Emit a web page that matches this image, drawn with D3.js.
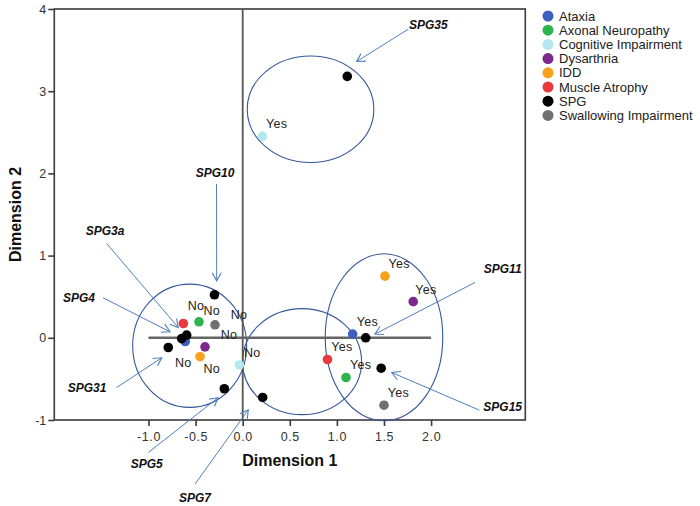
<!DOCTYPE html>
<html><head><meta charset="utf-8">
<script src="https://cdn.jsdelivr.net/npm/d3@7"></script>
<style>body{margin:0;background:#fff}svg{display:block}text{font-family:Arial,"Liberation Sans",sans-serif}</style>
</head><body>
<svg id="c" width="700" height="506"></svg>
<script>
// ---- data ----
const categories = ["Ataxia","Axonal Neuropathy","Cognitive Impairment","Dysarthria","IDD","Muscle Atrophy","SPG","Swallowing Impairment"];
const categoryColors = ["#3d5fbf","#2fb34c","#b3e9ee","#7b2a8b","#f7a11c","#e8393e","#000000","#707070"];
// points: [category index, dim1, dim2]
const pointCat = [0,0, 1,1, 2,2, 3,3, 4,4, 5,5, 7,7, 6,6,6,6,6,6,6,6,6];
const pointX   = [-0.61,1.167, -0.464,1.097, -0.036,0.21, -0.40,1.81, -0.453,1.51, -0.63,0.90, -0.294,1.50, 1.11,-0.30,-0.595,-0.648,-0.79,-0.195,0.212,1.306,1.47];
const pointY   = [-0.045,0.045, 0.195,-0.483, -0.33,2.45, -0.11,0.44, -0.23,0.75, 0.174,-0.264, 0.158,-0.82, 3.18,0.523,0.032,-0.01,-0.118,-0.62,-0.726,0.0,-0.37];
// category labels (No / Yes), centre positions in dimension units
const labelText = ["No","No","No","No","No","No","No","Yes","Yes","Yes","Yes","Yes","Yes","Yes"];
const labelX = [-0.496,-0.329,-0.039,-0.145,0.102,-0.631,-0.329, 0.361,1.662,1.946,1.325,1.054,1.251,1.652];
const labelY = [0.389,0.328,0.288,0.033,-0.186,-0.300,-0.369, 2.600,0.897,0.588,0.201,-0.113,-0.332,-0.673];
// cluster ellipses: centre and radii in dimension units
const ellCX = [0.72,-0.563,0.63,1.50];
const ellCY = [2.78,-0.097,-0.29,0.006];
const ellRX = [0.672,0.605,0.632,0.624];
const ellRY = [0.648,0.75,0.645,1.016];
// SPG annotations: text, text pos, arrow start, arrow tip
const annText = ["SPG35","SPG10","SPG3a","SPG4","SPG31","SPG5","SPG7","SPG11","SPG15"];
const annTX = [1.970,-0.294,-1.462,-1.738,-1.653,-1.019,-0.506,2.760,2.760];
const annTY = [3.808,2.007,1.302,0.487,-0.608,-1.537,-1.943,0.836,-0.836];
const annSX = [1.758,-0.278,-1.444,-1.483,-1.338,-1.002,-0.506,2.466,2.512];
const annSY = [3.755,1.873,1.147,0.487,-0.605,-1.395,-1.780,0.673,-0.880];
const annEX = [1.210,-0.276,-0.684,-0.772,-0.860,-0.262,0.059,1.404,1.582];
const annEY = [3.361,0.693,0.125,0.073,-0.243,-0.730,-0.876,0.045,-0.422];
const xTicks = [-1,-0.5,0,0.5,1,1.5,2];
const xTickLabels = ["-1.0","-0.5","0.0","0.5","1.0","1.5","2.0"];
const yTicks = [-1,0,1,2,3,4];
const yTickLabels = ["-1","0","1","2","3","4"];

// ---- drawing ----
const svg = d3.select("#c");
const x = d3.scaleLinear().domain([-2,3]).range([54.3,525.3]);
const y = d3.scaleLinear().domain([-1,4]).range([420,9]);

const defs = svg.append("defs");
defs.append("marker").attr("id","ah").attr("viewBox","-10 -6 12 12")
  .attr("refX",0).attr("refY",0).attr("markerWidth",12).attr("markerHeight",12)
  .attr("markerUnits","userSpaceOnUse").attr("orient","auto")
  .append("path").attr("d","M-8,-4.5L0,0L-8,4.5").attr("fill","none")
  .attr("stroke","#4f7fc0").attr("stroke-width",1.1);

// frame
svg.append("rect").attr("x",x(-2)).attr("y",y(4)).attr("width",x(3)-x(-2)).attr("height",y(-1)-y(4))
  .attr("fill","none").attr("stroke","#3a3a3a").attr("stroke-width",1.6);

// axes
const xa = svg.append("g").attr("transform",`translate(0,${y(-1)})`)
  .call(d3.axisBottom(x).tickValues(xTicks).tickSize(6).tickSizeOuter(0).tickFormat((d,i)=>xTickLabels[i]));
const ya = svg.append("g").attr("transform",`translate(${x(-2)},0)`)
  .call(d3.axisLeft(y).tickValues(yTicks).tickSize(6).tickSizeOuter(0).tickFormat((d,i)=>yTickLabels[i]));
[xa,ya].forEach(a=>{a.select(".domain").remove();a.selectAll("line").attr("stroke","#3a3a3a").attr("stroke-width",1.6);
  a.selectAll("text").attr("font-size",12.5).attr("fill","#333").attr("font-family","Arial, 'Liberation Sans', sans-serif");});
xa.selectAll("text").attr("dy","0.95em").attr("letter-spacing",0.6);
ya.selectAll("text").attr("x",-8);

svg.append("text").attr("x",(x(-2)+x(3))/2).attr("y",466).attr("text-anchor","middle")
  .attr("font-size",16).attr("font-weight","bold").attr("fill","#111").text("Dimension 1");
svg.append("text").attr("transform",`translate(21,${(y(-1)+y(4))/2}) rotate(-90)`).attr("text-anchor","middle")
  .attr("font-size",16).attr("font-weight","bold").attr("fill","#111").text("Dimension 2");

// ellipses
svg.append("g").selectAll("ellipse").data(ellCX).join("ellipse")
  .attr("cx",(d,i)=>x(ellCX[i])).attr("cy",(d,i)=>y(ellCY[i]))
  .attr("rx",(d,i)=>x(ellRX[i])-x(0)).attr("ry",(d,i)=>y(0)-y(ellRY[i]))
  .attr("fill","none").attr("stroke","#34579a").attr("stroke-width",1.1);

// reference lines
svg.append("line").attr("x1",x(0)).attr("x2",x(0)).attr("y1",y(-1)).attr("y2",y(4))
  .attr("stroke","#555").attr("stroke-width",1.8);
svg.append("line").attr("x1",x(-1)).attr("x2",x(2)).attr("y1",y(0)).attr("y2",y(0))
  .attr("stroke","#666").attr("stroke-width",2.4);

// points
svg.append("g").selectAll("circle").data(pointX).join("circle")
  .attr("cx",(d,i)=>x(pointX[i])).attr("cy",(d,i)=>y(pointY[i])).attr("r",4.8)
  .attr("fill",(d,i)=>categoryColors[pointCat[i]]);

// No / Yes labels
svg.append("g").selectAll("text").data(labelText).join("text")
  .attr("x",(d,i)=>x(labelX[i])).attr("y",(d,i)=>y(labelY[i])).attr("dy","0.35em")
  .attr("text-anchor","middle").attr("font-size",12.5).attr("fill","#222").attr("letter-spacing",0.3).text(d=>d);

// annotation arrows
const ag = svg.append("g");
ag.selectAll("line").data(annText).join("line")
  .attr("x1",(d,i)=>x(annSX[i])).attr("y1",(d,i)=>y(annSY[i]))
  .attr("x2",(d,i)=>x(annEX[i])).attr("y2",(d,i)=>y(annEY[i]))
  .attr("stroke","#4f7fc0").attr("stroke-width",1).attr("marker-end","url(#ah)");
ag.selectAll("text").data(annText).join("text")
  .attr("x",(d,i)=>x(annTX[i])).attr("y",(d,i)=>y(annTY[i])).attr("dy","0.35em")
  .attr("text-anchor","middle").attr("font-size",12).attr("font-weight","bold").attr("font-style","italic")
  .attr("fill","#111").text(d=>d);

// legend
const lg = svg.append("g");
lg.selectAll("circle").data(categories).join("circle")
  .attr("cx",548).attr("cy",(d,i)=>16+i*14.2).attr("r",5.5).attr("fill",(d,i)=>categoryColors[i]);
lg.selectAll("text").data(categories).join("text")
  .attr("x",559).attr("y",(d,i)=>16+i*14.2).attr("dy","0.35em")
  .attr("font-size",13).attr("fill","#222").text(d=>d);
</script>
</body></html>
